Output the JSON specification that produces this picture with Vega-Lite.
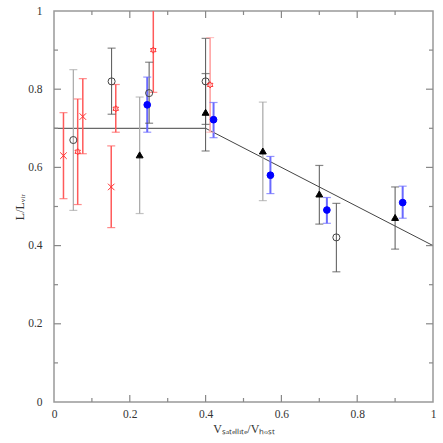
{
  "$schema": "https://vega.github.io/schema/vega-lite/v6.json",
  "autosize": "none",
  "width": 379,
  "height": 391,
  "padding": {"left": 54, "top": 11, "right": 10, "bottom": 41},
  "background": "white",
  "config": {
    "font": "Liberation Serif",
    "view": {"stroke": "#999999", "strokeWidth": 1.5},
    "axis": {
      "labelFont": "Liberation Serif",
      "titleFont": "Liberation Serif",
      "labelFontSize": 11.5,
      "titleFontSize": 12,
      "labelColor": "#333333",
      "titleColor": "#333333",
      "titleFontWeight": "normal",
      "domain": false,
      "grid": false,
      "ticks": false
    }
  },
  "datasets": {
    "pts": [
      {"series": "redx", "x": 0.025, "y": 0.63, "lo": 0.52, "hi": 0.74, "bar": "red"},
      {"series": "circle", "x": 0.051, "y": 0.67, "lo": 0.49, "hi": 0.85, "bar": "light"},
      {"series": "redstar", "x": 0.0625, "y": 0.64, "lo": 0.505, "hi": 0.775, "bar": "red"},
      {"series": "redx", "x": 0.076, "y": 0.73, "lo": 0.635, "hi": 0.827, "bar": "red"},
      {"series": "circle", "x": 0.152, "y": 0.82, "lo": 0.736, "hi": 0.905, "bar": "dark"},
      {"series": "redstar", "x": 0.163, "y": 0.75, "lo": 0.69, "hi": 0.812, "bar": "red"},
      {"series": "redx", "x": 0.151, "y": 0.55, "lo": 0.446, "hi": 0.655, "bar": "red"},
      {"series": "triangle", "x": 0.226, "y": 0.632, "lo": 0.482, "hi": 0.78, "bar": "light"},
      {"series": "blue", "x": 0.246, "y": 0.76, "lo": 0.69, "hi": 0.831, "bar": "blue"},
      {"series": "circle", "x": 0.251, "y": 0.79, "lo": 0.713, "hi": 0.869, "bar": "dark"},
      {"series": "redstar", "x": 0.262, "y": 0.9, "lo": 0.792, "hi": 1.05, "bar": "red"},
      {"series": "circle", "x": 0.4, "y": 0.82, "lo": 0.71, "hi": 0.93, "bar": "dark"},
      {"series": "triangle", "x": 0.4, "y": 0.741, "lo": 0.642, "hi": 0.84, "bar": "dark"},
      {"series": "redstar", "x": 0.412, "y": 0.811, "lo": 0.69, "hi": 0.932, "bar": "palered"},
      {"series": "blue", "x": 0.421, "y": 0.722, "lo": 0.676, "hi": 0.766, "bar": "blue"},
      {"series": "triangle", "x": 0.551, "y": 0.642, "lo": 0.515, "hi": 0.767, "bar": "light"},
      {"series": "blue", "x": 0.571, "y": 0.58, "lo": 0.533, "hi": 0.628, "bar": "blue"},
      {"series": "triangle", "x": 0.7, "y": 0.532, "lo": 0.455, "hi": 0.605, "bar": "dark"},
      {"series": "blue", "x": 0.72, "y": 0.491, "lo": 0.457, "hi": 0.523, "bar": "blue"},
      {"series": "circle", "x": 0.745, "y": 0.421, "lo": 0.333, "hi": 0.508, "bar": "dark"},
      {"series": "triangle", "x": 0.9, "y": 0.472, "lo": 0.391, "hi": 0.55, "bar": "dark"},
      {"series": "blue", "x": 0.92, "y": 0.51, "lo": 0.47, "hi": 0.552, "bar": "blue"}
    ],
    "model": [
      {"x": 0, "y": 0.7},
      {"x": 0.4, "y": 0.7},
      {"x": 1, "y": 0.4}
    ],
    "majors": [{"v": 0.2}, {"v": 0.4}, {"v": 0.6}, {"v": 0.8}],
    "minors": [{"v": 0.1}, {"v": 0.3}, {"v": 0.5}, {"v": 0.7}, {"v": 0.9}]
  },
  "encoding": {
    "x": {"type": "quantitative", "scale": {"domain": [0, 1], "nice": false, "zero": false},
      "axis": {"orient": "bottom", "values": [0, 0.2, 0.4, 0.6, 0.8, 1], "format": "~g",
        "labelPadding": 6, "labelFlush": false, "labelOverlap": false,
        "title": "Vₛₐₜₑₗₗᵢₜₑ/Vₕₒₛₜ", "titlePadding": 4}},
    "y": {"type": "quantitative", "scale": {"domain": [0, 1], "nice": false, "zero": false},
      "axis": {"orient": "left", "values": [0, 0.2, 0.4, 0.6, 0.8, 1], "format": "~g",
        "labelPadding": 12, "labelFlush": false, "labelOverlap": false,
        "title": "L/Lᵥᵢᵣ", "titlePadding": 1}}
  },
  "layer": [
    {
      "data": {"name": "model"},
      "mark": {"type": "line", "color": "#444444", "strokeWidth": 1, "clip": true},
      "encoding": {
        "x": {"field": "x", "type": "quantitative", "scale": {"domain": [0, 1], "nice": false, "zero": false},
          "axis": {"orient": "bottom", "values": [0, 0.2, 0.4, 0.6, 0.8, 1], "format": "~g",
            "labelPadding": 6, "labelFlush": false, "labelOverlap": false,
            "title": "Vₛₐₜₑₗₗᵢₜₑ/Vₕₒₛₜ", "titlePadding": 4}},
        "y": {"field": "y", "type": "quantitative", "scale": {"domain": [0, 1], "nice": false, "zero": false},
          "axis": {"orient": "left", "values": [0, 0.2, 0.4, 0.6, 0.8, 1], "format": "~g",
            "labelPadding": 12, "labelFlush": false, "labelOverlap": false,
            "title": "L/Lᵥᵢᵣ", "titlePadding": 1}}
      }
    },
    {
      "data": {"name": "pts"},
      "mark": {"type": "rule", "clip": true},
      "encoding": {
        "x": {"field": "x", "type": "quantitative"},
        "y": {"field": "lo", "type": "quantitative"},
        "y2": {"field": "hi"},
        "color": {"field": "bar", "type": "nominal", "legend": null,
          "scale": {"domain": ["dark", "light", "red", "palered", "blue"], "range": ["#555555", "#aaaaaa", "#ff5a5a", "#ffaaaa", "#6a6aff"]}},
        "strokeWidth": {"field": "bar", "type": "nominal", "legend": null,
          "scale": {"domain": ["dark", "light", "red", "palered", "blue"], "range": [1, 2, 1, 2.5, 1]}}
      }
    },
    {
      "data": {"name": "pts"},
      "mark": {"type": "tick", "orient": "horizontal", "size": 8, "thickness": 1.2, "clip": true},
      "encoding": {
        "x": {"field": "x", "type": "quantitative"},
        "y": {"field": "lo", "type": "quantitative"},
        "color": {"field": "bar", "type": "nominal", "legend": null,
          "scale": {"domain": ["dark", "light", "red", "palered", "blue"], "range": ["#555555", "#aaaaaa", "#ff5a5a", "#ffaaaa", "#6a6aff"]}}
      }
    },
    {
      "data": {"name": "pts"},
      "mark": {"type": "tick", "orient": "horizontal", "size": 8, "thickness": 1.2, "clip": true},
      "encoding": {
        "x": {"field": "x", "type": "quantitative"},
        "y": {"field": "hi", "type": "quantitative"},
        "color": {"field": "bar", "type": "nominal", "legend": null,
          "scale": {"domain": ["dark", "light", "red", "palered", "blue"], "range": ["#555555", "#aaaaaa", "#ff5a5a", "#ffaaaa", "#6a6aff"]}}
      }
    },
    {
      "data": {"name": "pts"},
      "mark": {"type": "point", "strokeWidth": 1, "opacity": 1},
      "encoding": {
        "x": {"field": "x", "type": "quantitative"},
        "y": {"field": "y", "type": "quantitative"},
        "shape": {"field": "series", "type": "nominal", "legend": null,
          "scale": {"domain": ["circle", "triangle", "blue", "redx", "redstar"],
            "range": ["circle", "triangle-up", "circle", "M-1,-1L1,1M-1,1L1,-1", "M0,-1L0.289,-0.5L0.866,-0.5L0.577,0L0.866,0.5L0.289,0.5L0,1L-0.289,0.5L-0.866,0.5L-0.577,0L-0.866,-0.5L-0.289,-0.5Z"]}},
        "size": {"field": "series", "type": "nominal", "legend": null,
          "scale": {"domain": ["circle", "triangle", "blue", "redx", "redstar"], "range": [50, 40, 60, 25, 40]}},
        "fill": {"field": "series", "type": "nominal", "legend": null,
          "scale": {"domain": ["circle", "triangle", "blue", "redx", "redstar"], "range": ["transparent", "#000000", "#0000ff", "transparent", "transparent"]}},
        "stroke": {"field": "series", "type": "nominal", "legend": null,
          "scale": {"domain": ["circle", "triangle", "blue", "redx", "redstar"], "range": ["#444444", "#000000", "#0000ff", "#ff3030", "#ff3030"]}}
      }
    },
    {
      "data": {"name": "majors"},
      "mark": {"type": "rule", "color": "#888888", "strokeWidth": 1.2, "y2Offset": -7},
      "encoding": {"x": {"field": "v", "type": "quantitative"}, "y": {"datum": 0}, "y2": {"datum": 0}}
    },
    {
      "data": {"name": "minors"},
      "mark": {"type": "rule", "color": "#888888", "strokeWidth": 1.2, "y2Offset": -4},
      "encoding": {"x": {"field": "v", "type": "quantitative"}, "y": {"datum": 0}, "y2": {"datum": 0}}
    },
    {
      "data": {"name": "majors"},
      "mark": {"type": "rule", "color": "#888888", "strokeWidth": 1.2, "y2Offset": 7},
      "encoding": {"x": {"field": "v", "type": "quantitative"}, "y": {"datum": 1}, "y2": {"datum": 1}}
    },
    {
      "data": {"name": "minors"},
      "mark": {"type": "rule", "color": "#888888", "strokeWidth": 1.2, "y2Offset": 4},
      "encoding": {"x": {"field": "v", "type": "quantitative"}, "y": {"datum": 1}, "y2": {"datum": 1}}
    },
    {
      "data": {"name": "majors"},
      "mark": {"type": "rule", "color": "#888888", "strokeWidth": 1.2, "x2Offset": 7},
      "encoding": {"y": {"field": "v", "type": "quantitative"}, "x": {"datum": 0}, "x2": {"datum": 0}}
    },
    {
      "data": {"name": "minors"},
      "mark": {"type": "rule", "color": "#888888", "strokeWidth": 1.2, "x2Offset": 4},
      "encoding": {"y": {"field": "v", "type": "quantitative"}, "x": {"datum": 0}, "x2": {"datum": 0}}
    },
    {
      "data": {"name": "majors"},
      "mark": {"type": "rule", "color": "#888888", "strokeWidth": 1.2, "x2Offset": -7},
      "encoding": {"y": {"field": "v", "type": "quantitative"}, "x": {"datum": 1}, "x2": {"datum": 1}}
    },
    {
      "data": {"name": "minors"},
      "mark": {"type": "rule", "color": "#888888", "strokeWidth": 1.2, "x2Offset": -4},
      "encoding": {"y": {"field": "v", "type": "quantitative"}, "x": {"datum": 1}, "x2": {"datum": 1}}
    }
  ]
}
